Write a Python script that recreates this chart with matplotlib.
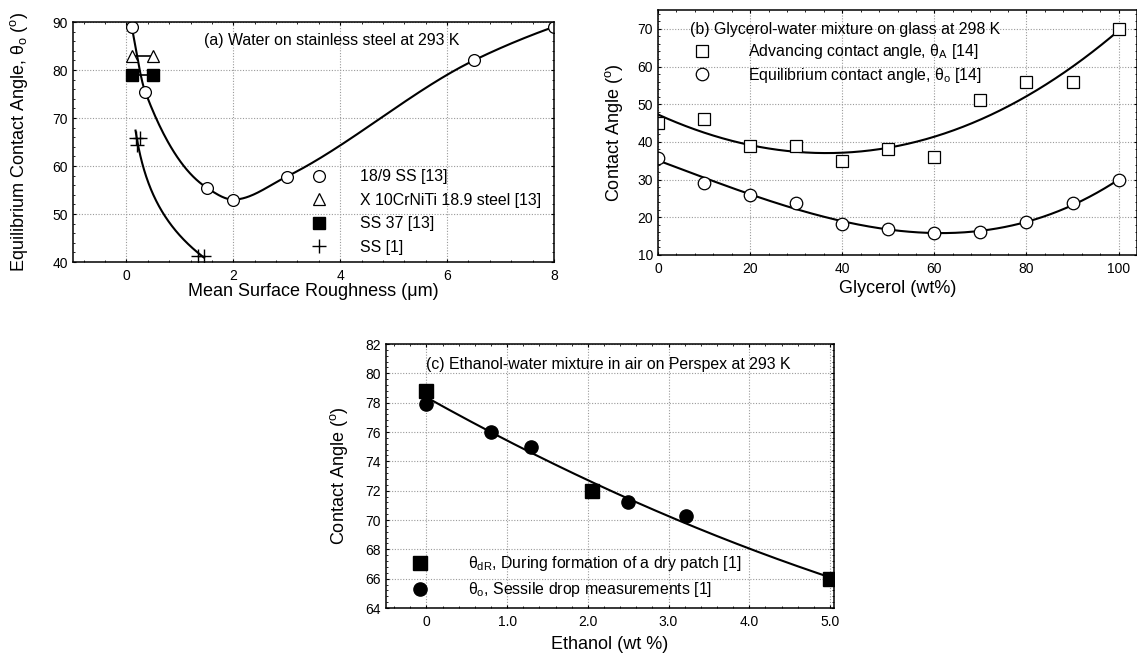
import numpy as np
import matplotlib
matplotlib.use("Agg")
import matplotlib.pyplot as plt
from matplotlib.ticker import MultipleLocator, AutoMinorLocator, FixedLocator

plt.rcParams["font.family"] = ["Liberation Sans", "DejaVu Sans"]
plt.rcParams["mathtext.fontset"] = "custom"
plt.rcParams["mathtext.rm"] = "Liberation Sans"
plt.rcParams["mathtext.it"] = "Liberation Sans"

# ------------------------------------------------------------
# (a) water on stainless steel
# ------------------------------------------------------------
ss189_x = [0.1, 0.35, 1.5, 2.0, 3.0, 6.5, 8.0]
ss189_y = [89, 75.5, 55.5, 53, 57.8, 82, 89]
crniti_x = [0.1, 0.5]
crniti_y = [83, 83]
ss37_x = [0.1, 0.5]
ss37_y = [79, 79]
ss1_x = [0.17, 0.25, 0.2, 1.33, 1.45]
ss1_y = [65.8, 65.8, 64.3, 41.2, 41.2]

# ------------------------------------------------------------
# (b) glycerol-water on glass
# ------------------------------------------------------------
glyc_wt = [0, 10, 20, 30, 40, 50, 60, 70, 80, 90, 100]
adv_angle = [45, 46, 39, 38.8, 35, 38, 36, 51, 56, 56, 70]
eq_angle = [35.7, 29.2, 26, 23.8, 18.3, 16.8, 15.8, 16, 18.8, 23.7, 29.8]

# ------------------------------------------------------------
# (c) ethanol-water on perspex
# ------------------------------------------------------------
dry_x = [0, 2.05, 5.0]
dry_y = [78.8, 72, 66]
sessile_x = [0, 0.8, 1.3, 2.5, 3.22]
sessile_y = [77.9, 76, 75, 71.2, 70.3]


def pchip(x, y, xs):
    # monotone cubic hermite (Fritsch-Carlson), numpy only
    x = np.asarray(x, float); y = np.asarray(y, float)
    h = np.diff(x)
    delta = np.diff(y) / h
    n = len(x)
    d = np.zeros(n)
    for k in range(1, n - 1):
        if delta[k - 1] * delta[k] > 0:
            w1 = 2 * h[k] + h[k - 1]
            w2 = h[k] + 2 * h[k - 1]
            d[k] = (w1 + w2) / (w1 / delta[k - 1] + w2 / delta[k])
    d[0] = ((2 * h[0] + h[1]) * delta[0] - h[0] * delta[1]) / (h[0] + h[1])
    if np.sign(d[0]) != np.sign(delta[0]):
        d[0] = 0
    d[-1] = ((2 * h[-1] + h[-2]) * delta[-1] - h[-1] * delta[-2]) / (h[-1] + h[-2])
    if np.sign(d[-1]) != np.sign(delta[-1]):
        d[-1] = 0
    idx = np.clip(np.searchsorted(x, xs) - 1, 0, n - 2)
    t = (xs - x[idx]) / h[idx]
    h00 = 2 * t ** 3 - 3 * t ** 2 + 1
    h10 = t ** 3 - 2 * t ** 2 + t
    h01 = -2 * t ** 3 + 3 * t ** 2
    h11 = t ** 3 - t ** 2
    return (h00 * y[idx] + h10 * h[idx] * d[idx] + h01 * y[idx + 1]
            + h11 * h[idx] * d[idx + 1])


def style_axes(ax):
    ax.grid(True, color="#9a9a9a", linestyle=(0, (1, 1.5)), linewidth=0.8)
    ax.set_axisbelow(True)
    ax.tick_params(which="both", direction="in", top=True, right=True,
                   labelsize=10)
    ax.tick_params(axis="x", which="major", pad=5)
    ax.tick_params(axis="y", which="major", pad=3.5)
    ax.tick_params(which="major", length=2.5, width=0.8)
    ax.tick_params(which="minor", length=1.5, width=0.6)
    ax.xaxis.set_minor_locator(AutoMinorLocator(5))
    ax.yaxis.set_minor_locator(AutoMinorLocator(5))
    for s in ax.spines.values():
        s.set_linewidth(1.1)


fig = plt.figure(figsize=(11.37, 6.53), dpi=100)
W, H = 1137, 653


def add_ax(l, t, r, b):
    return fig.add_axes([l / W, 1 - b / H, (r - l) / W, (b - t) / H])


LBL = 13
TXT = 11.4

# ---------------- panel (a)
ax = add_ax(73, 22, 554, 262)
style_axes(ax)
xs = np.linspace(ss189_x[0], ss189_x[-1], 400)
ax.plot(xs, pchip(ss189_x, ss189_y, xs), color="black", lw=1.5)
p = np.polyfit(np.log(ss1_x), ss1_y, 1)
xs1 = np.linspace(min(ss1_x), max(ss1_x), 200)
ax.plot(xs1, np.polyval(p, np.log(xs1)), color="black", lw=1.5)
ax.plot(ss189_x, ss189_y, "o", ms=8.5, mfc="white", mec="black", mew=0.9,
        label="18/9 SS [13]")
ax.plot(crniti_x, crniti_y, "-", color="black", lw=1.2)
ax.plot(crniti_x, crniti_y, "^", ls="none", ms=8.5, mfc="white", mec="black",
        mew=0.9, label="X 10CrNiTi 18.9 steel [13]")
ax.plot(ss37_x, ss37_y, "-", color="black", lw=1.2)
ax.plot(ss37_x, ss37_y, "s", ls="none", ms=9, mfc="black", mec="black",
        label="SS 37 [13]")
ax.plot(ss1_x, ss1_y, "+", ls="none", ms=10, mec="black", mew=1.0,
        label="SS [1]")
ax.set_xlim(-1, 8)
ax.set_ylim(40, 90)
ax.xaxis.set_major_locator(MultipleLocator(2))
ax.yaxis.set_major_locator(MultipleLocator(10))
ax.set_xlabel("Mean Surface Roughness (\u03bcm)", fontsize=LBL, labelpad=0)
ax.set_ylabel("Equilibrium Contact Angle, \u03b8$_\\mathregular{o}$ ($^\\mathregular{o}$)",
              fontsize=LBL, labelpad=16)
ax.text(0.272, 0.925, "(a) Water on stainless steel at 293 K", transform=ax.transAxes,
        fontsize=TXT, va="center", ha="left")
ax.legend(loc="upper left", bbox_to_anchor=(0.495, 0.386), frameon=False,
          fontsize=TXT, handlelength=1.0, handletextpad=2.1, labelspacing=0.53,
          borderpad=0, borderaxespad=0, numpoints=1)

# ---------------- panel (b)
ax = add_ax(658, 10, 1137, 255)
style_axes(ax)
xs = np.linspace(0, 100, 300)
ax.plot(xs, np.polyval(np.polyfit(glyc_wt, adv_angle, 3), xs), color="black", lw=1.5)
ax.plot(xs, np.polyval(np.polyfit(glyc_wt, eq_angle, 3), xs), color="black", lw=1.5)
ax.plot(glyc_wt, adv_angle, "s", ms=9, mfc="white", mec="black", mew=0.9,
        label="Advancing contact angle, \u03b8$_\\mathregular{A}$ [14]")
ax.plot(glyc_wt, eq_angle, "o", ms=9, mfc="white", mec="black", mew=0.9,
        label="Equilibrium contact angle, \u03b8$_\\mathregular{o}$ [14]")
ax.set_xlim(0, 104)
ax.set_ylim(10, 75)
ax.xaxis.set_major_locator(FixedLocator([0, 20, 40, 60, 80, 100]))
ax.yaxis.set_major_locator(MultipleLocator(10))
ax.set_xlabel("Glycerol (wt%)", fontsize=LBL, labelpad=3)
ax.set_ylabel("Contact Angle ($^\\mathregular{o}$)", fontsize=LBL, labelpad=9)
ax.text(0.067, 0.922, "(b) Glycerol-water mixture on glass at 298 K",
        transform=ax.transAxes, fontsize=TXT, va="center", ha="left")
ax.legend(loc="upper left", bbox_to_anchor=(0.075, 0.868), frameon=False,
          fontsize=TXT, handlelength=1.0, handletextpad=2.4, labelspacing=0.28,
          borderpad=0, borderaxespad=0, numpoints=1)

# ---------------- panel (c)
ax = add_ax(386, 344, 834, 608)
style_axes(ax)
all_x = dry_x + sessile_x
all_y = dry_y + sessile_y
xs = np.linspace(0, 5, 200)
ax.plot(xs, np.polyval(np.polyfit(all_x, all_y, 2), xs), color="black", lw=1.5)
ax.plot(dry_x, dry_y, "s", ms=9.5, mfc="black", mec="black",
        label="\u03b8$_\\mathregular{dR}$, During formation of a dry patch [1]")
ax.plot(sessile_x, sessile_y, "o", ms=9.5, mfc="black", mec="black",
        label="\u03b8$_\\mathregular{o}$, Sessile drop measurements [1]")
ax.set_xlim(-0.5, 5.05)
ax.set_ylim(64, 82)
ax.xaxis.set_major_locator(FixedLocator([0, 1, 2, 3, 4, 5]))
ax.set_xticklabels(["0", "1.0", "2.0", "3.0", "4.0", "5.0"])
ax.yaxis.set_major_locator(MultipleLocator(2))
ax.set_xlabel("Ethanol (wt %)", fontsize=LBL, labelpad=5)
ax.set_ylabel("Contact Angle ($^\\mathregular{o}$)", fontsize=LBL, labelpad=11)
ax.text(0.09, 0.924, "(c) Ethanol-water mixture in air on Perspex at 293 K",
        transform=ax.transAxes, fontsize=TXT, va="center", ha="left")
ax.legend(loc="upper left", bbox_to_anchor=(0.058, 0.203), frameon=False,
          fontsize=TXT, handlelength=1.0, handletextpad=2.55, labelspacing=0.42,
          borderpad=0, borderaxespad=0, numpoints=1)

fig.savefig("out.png", dpi=100)
